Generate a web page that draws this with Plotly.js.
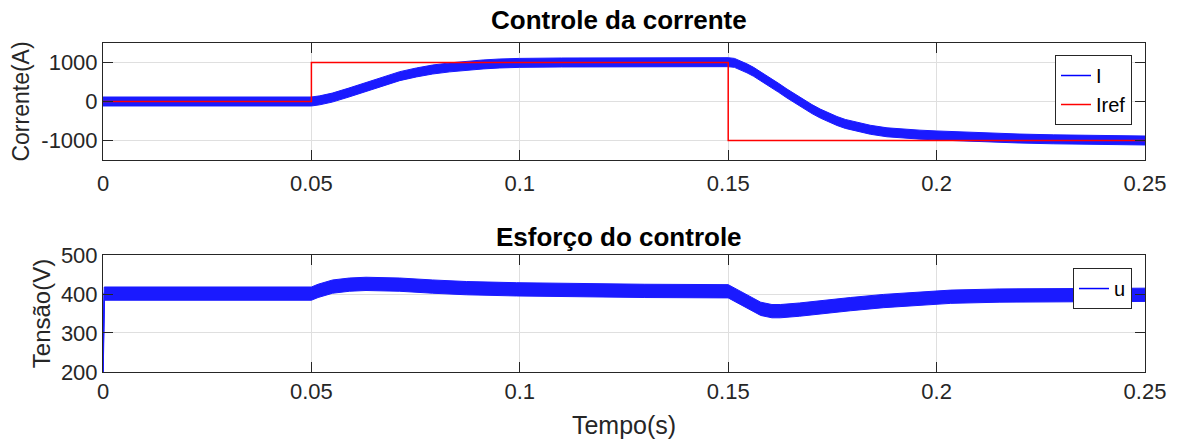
<!DOCTYPE html>
<html>
<head>
<meta charset="utf-8">
<script src="https://cdn.plot.ly/plotly-3.0.1.min.js"></script>
<style>html,body{margin:0;padding:0;background:#fff;}#chart{width:1179px;height:441px;}</style>
</head>
<body>
<div id="chart"></div>
<script>
// ---- data ----
// Current I: centre of the ripple band (A) vs time (s)
const tI = [0, 0.05, 0.052, 0.055, 0.059, 0.0632, 0.0672, 0.0712, 0.0752, 0.0791,
  0.0832, 0.0872, 0.0912, 0.0952, 0.1, 0.11, 0.12, 0.13, 0.14, 0.15,
  0.1515, 0.1529, 0.1545, 0.1561, 0.158, 0.1601, 0.1621, 0.1641, 0.1661, 0.1681,
  0.1701, 0.1721, 0.1741, 0.1761, 0.1781, 0.1801, 0.1841, 0.1881, 0.1921, 0.196,
  0.2, 0.2061, 0.2122, 0.22, 0.228, 0.24, 0.25];
const I_mid = [0, 0, 30, 100, 230, 375, 515, 650, 745, 820,
  875, 920, 950, 975, 990, 1000, 1005, 1008, 1008, 1008,
  990, 930, 850, 760, 635, 500, 350, 205, 65, -70,
  -195, -310, -410, -500, -575, -630, -725, -790, -830, -850,
  -870, -900, -925, -950, -970, -990, -1000];
const I_ripple = 115;   // half peak-to-peak ripple of I (A)

// Reference current Iref
const tRef = [0, 0.05, 0.05, 0.15, 0.15, 0.25];
const Iref = [0, 0, 1000, 1000, -1000, -1000];

// Control effort u: centre of the ripple band (V) vs time (s)
const tU = [0, 0.0003, 0.05, 0.0516, 0.0551, 0.0591, 0.0631, 0.0672, 0.0712, 0.0791,
  0.0872, 0.0992, 0.11, 0.13, 0.15, 0.152, 0.1549, 0.1578, 0.1605, 0.1625,
  0.1671, 0.1713, 0.1793, 0.1873, 0.1913, 0.2034, 0.215, 0.23, 0.25];
const u_mid = [200, 401, 401, 408, 419, 424, 426, 425, 424, 419,
  415, 412, 410, 408, 407, 396, 378, 362, 356, 356,
  360, 365, 374, 382, 385, 393, 396, 397, 398];
const u_ripple = [0, 17, 17, 17, 17, 17, 17, 17, 17, 17,
  17, 17, 17, 17, 17, 17, 17, 17, 17, 17,
  17, 17, 17, 17, 17, 17, 17, 17, 17];

const xTicks = [0, 0.05, 0.1, 0.15, 0.2, 0.25];
const xTickText = ['0', '0.05', '0.1', '0.15', '0.2', '0.25'];
const yTicksI = [-1000, 0, 1000];
const yTickTextI = ['-1000', '0', '1000'];
const yTicksU = [200, 300, 400, 500];
const yTickTextU = ['200', '300', '400', '500'];

// ---- build traces ----
const I_hi = I_mid.map(v => v + I_ripple);
const I_lo = I_mid.map(v => v - I_ripple);
const u_hi = u_mid.map((v, i) => v + u_ripple[i]);
const u_lo = u_mid.map((v, i) => v - u_ripple[i]);

const blue = '#0000ff';
const bandCol = '#1a1aff';

const traces = [
  // centre of I (legend entry), drawn first, under the ripple band
  {x: tI, y: I_mid, xaxis: 'x', yaxis: 'y', mode: 'lines', name: 'I',
   line: {color: blue, width: 1.5}, legend: 'legend'},
  // ripple band of I (lower edge, then upper edge filled down to it)
  {x: tI, y: I_lo, xaxis: 'x', yaxis: 'y', mode: 'lines', name: 'I band lo',
   line: {color: bandCol, width: 1}, showlegend: false, legend: 'legend'},
  {x: tI, y: I_hi, xaxis: 'x', yaxis: 'y', mode: 'lines', name: 'I band hi',
   line: {color: bandCol, width: 1}, fill: 'tonexty', fillcolor: bandCol,
   showlegend: false, legend: 'legend'},
  {x: tRef, y: Iref, xaxis: 'x', yaxis: 'y', mode: 'lines', name: 'Iref',
   line: {color: '#ff0000', width: 1.5}, legend: 'legend'},
  // centre of u (legend entry)
  {x: tU, y: u_mid, xaxis: 'x2', yaxis: 'y2', mode: 'lines', name: 'u',
   line: {color: blue, width: 1.5}, legend: 'legend2'},
  // ripple band of u
  {x: tU, y: u_lo, xaxis: 'x2', yaxis: 'y2', mode: 'lines', name: 'u band lo',
   line: {color: bandCol, width: 1}, showlegend: false, legend: 'legend2'},
  {x: tU, y: u_hi, xaxis: 'x2', yaxis: 'y2', mode: 'lines', name: 'u band hi',
   line: {color: bandCol, width: 1}, fill: 'tonexty', fillcolor: bandCol,
   showlegend: false, legend: 'legend2'}
];

const FONT = 'Liberation Sans, Arial, Helvetica, sans-serif';
const axisCommon = {
  showline: true, mirror: 'ticks', linecolor: '#262626', linewidth: 1,
  ticks: 'inside', ticklen: 10, tickcolor: '#262626', tickwidth: 1,
  showgrid: true, gridcolor: '#dfdfdf', gridwidth: 1, zeroline: false,
  tickfont: {family: FONT, size: 22, color: '#262626'}
};

const layout = {
  width: 1179, height: 441,
  margin: {l: 103, r: 34, t: 43, b: 69},
  paper_bgcolor: '#ffffff', plot_bgcolor: '#ffffff',
  font: {family: FONT, color: '#262626'},
  xaxis: Object.assign({}, axisCommon, {domain: [0, 1], anchor: 'y', range: [0, 0.25],
    tickmode: 'array', tickvals: xTicks, ticktext: xTickText, ticklabelstandoff: 4}),
  yaxis: Object.assign({}, axisCommon, {domain: [0.6444, 1], anchor: 'x', range: [-1500, 1500],
    tickmode: 'array', tickvals: yTicksI, ticktext: yTickTextI,
    title: {text: 'Corrente(A)', font: {family: FONT, size: 23, color: '#262626'}, standoff: 5}}),
  xaxis2: Object.assign({}, axisCommon, {domain: [0, 1], anchor: 'y2', range: [0, 0.25],
    tickmode: 'array', tickvals: xTicks, ticktext: xTickText, ticklabelstandoff: 0,
    title: {text: 'Tempo(s)', font: {family: FONT, size: 25, color: '#262626'}, standoff: 13}}),
  yaxis2: Object.assign({}, axisCommon, {domain: [0, 0.3556], anchor: 'x2', range: [200, 500],
    tickmode: 'array', tickvals: yTicksU, ticktext: yTickTextU,
    title: {text: 'Tensão(V)', font: {family: FONT, size: 24, color: '#262626'}, standoff: 3}}),
  legend: {x: 0.9875, xanchor: 'right', y: 0.9635, yanchor: 'top', traceorder: 'normal',
    bgcolor: '#ffffff', bordercolor: '#262626', borderwidth: 1,
    font: {family: FONT, size: 20, color: '#000000'}, tracegroupgap: 0},
  legend2: {x: 0.9875, xanchor: 'right', y: 0.316, yanchor: 'top', traceorder: 'normal',
    bgcolor: '#ffffff', bordercolor: '#262626', borderwidth: 1,
    font: {family: FONT, size: 20, color: '#000000'}},
  annotations: [
    {text: '<b>Controle da corrente</b>', xref: 'paper', yref: 'paper', x: 0.4955, y: 1.07,
     xanchor: 'center', yanchor: 'middle', showarrow: false,
     font: {family: FONT, size: 26, color: '#000000'}},
    {text: '<b>Esforço do controle</b>', xref: 'paper', yref: 'paper', x: 0.4955, y: 0.41,
     xanchor: 'center', yanchor: 'middle', showarrow: false,
     font: {family: FONT, size: 26, color: '#000000'}}
  ],
  showlegend: true
};

Plotly.newPlot('chart', traces, layout, {displayModeBar: false, staticPlot: true});
</script>
</body>
</html>
